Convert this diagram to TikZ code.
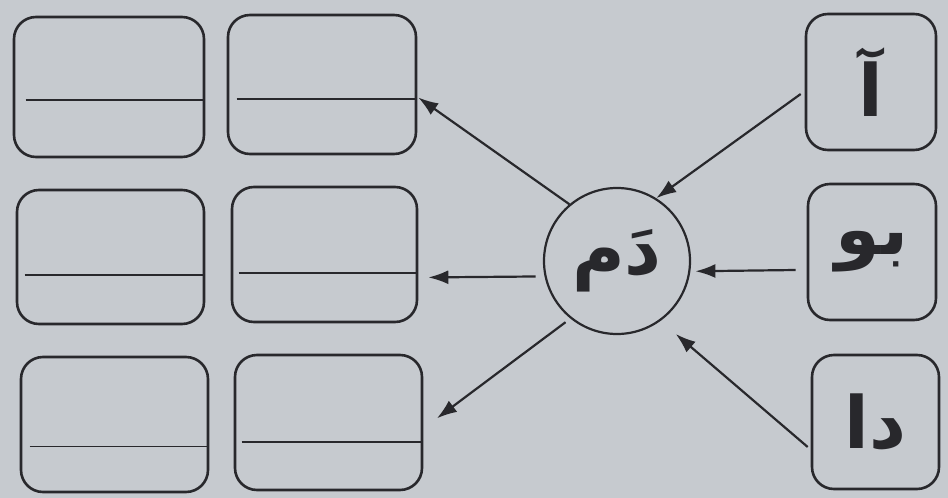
\documentclass[tikz,border=0pt]{standalone}
\usepackage{fontspec}
\TeXXeTstate=1
\newfontfamily\arabicfont[Script=Arabic]{DejaVu Sans}
\usetikzlibrary{calc,arrows.meta}
\definecolor{bgc}{RGB}{198,202,207}
\definecolor{ink}{RGB}{40,40,44}
\tikzset{
  box/.style={draw=ink, line width=2.6pt, rounded corners=22pt, inner sep=0pt},
  letterbox/.style={box, minimum width=128pt, minimum height=135pt},
  answerbox/.style={box, minimum width=187pt, minimum height=135pt},
  hub/.style={draw=ink, line width=2.2pt, circle, minimum size=146pt, inner sep=0pt},
  sep/.style={draw=ink, line width=1.8pt},
  arr/.style={draw=ink, line width=2.2pt, -{Latex[length=20pt,width=14pt]}},
  lettertext/.style={font=\fontsize{72}{80}\selectfont\arabicfont\bfseries, text=ink}
}
\begin{document}
\begin{tikzpicture}[x=1pt,y=-1pt]
\fill[bgc] (0,0) rectangle (948,498);
\useasboundingbox (0,0) rectangle (948,498);
% answer boxes
\node[answerbox, minimum width=190pt, minimum height=140pt] (L1) at (109,87) {};
\node[answerbox, minimum width=188pt, minimum height=139pt] (M1) at (322,84.5) {};
\node[answerbox, minimum height=134pt] (L2) at (110.5,257) {};
\node[answerbox, minimum width=185pt] (M2) at (324.5,254.5) {};
\node[answerbox] (L3) at (114.5,424.5) {};
\node[answerbox] (M3) at (328.5,422.5) {};
% dividing lines
\draw[sep] ($(L1.north west)!0.593!(L1.south west)+(13,0)$) -- ($(L1.north east)!0.593!(L1.south east)$);
\draw[sep] ($(M1.north west)!0.60!(M1.south west)+(10,0)$) -- ($(M1.north east)!0.60!(M1.south east)$);
\draw[sep] ($(L2.north west)!0.634!(L2.south west)+(9,0)$) -- ($(L2.north east)!0.634!(L2.south east)$);
\draw[sep] ($(M2.north west)!0.637!(M2.south west)+(8,0)$) -- ($(M2.north east)!0.637!(M2.south east)$);
\draw[sep] ($(L3.north west)!0.660!(L3.south west)+(10,0)$) -- ($(L3.north east)!0.660!(L3.south east)$);
\draw[sep] ($(M3.north west)!0.644!(M3.south west)+(8,0)$) -- ($(M3.north east)!0.644!(M3.south east)$);
% letter boxes
\node[letterbox, minimum width=130pt, minimum height=136pt, lettertext] (A) at (871,82) {\beginR آ\endR};
\node[letterbox, minimum height=136pt, lettertext] (B) at (872,252) {\beginR بو\endR};
\node[letterbox, minimum width=127pt, minimum height=134pt, lettertext] (D) at (875.5,422) {\beginR دا\endR};
% hub
\node[hub, lettertext] (C) at (617,261) {\beginR دَم\endR};
% incoming arrows
\draw[arr] ([xshift=-4pt,yshift=-12pt]A.west) -- (C.58);
\draw[arr, shorten >=5pt] ([xshift=-11pt,yshift=-18pt]B.west) -- (C.-8);
\draw[arr, shorten >=20pt] ([xshift=-3pt,yshift=-25pt]D.west) -- (C.-54);
% outgoing arrows
\draw[arr] (C.130) -- ([xshift=1pt,yshift=-13pt]M1.east);
\draw[arr, shorten <=9pt, shorten >=10pt] (C.192) -- ([yshift=-23pt]M2.east);
\draw[arr, shorten <=6pt, shorten >=17pt] (C.231) -- ([yshift=-6pt]M3.east);
\end{tikzpicture}
\end{document}
